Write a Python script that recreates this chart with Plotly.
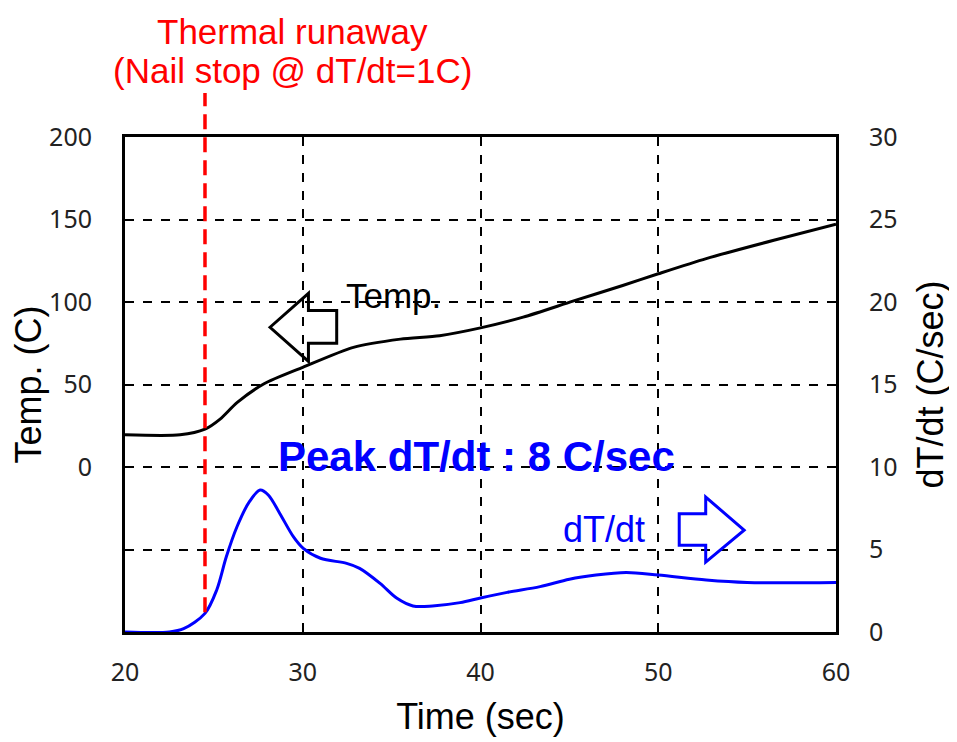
import plotly.graph_objects as go

# ---- data ----
temp_time = [20, 23.1, 24.5, 25.35, 26.3, 27.8, 30.0, 32.85, 35.5, 37.7, 40, 42.4, 45.2, 48.0, 50, 52.7, 56.5, 60]
temp_vals = [19.5, 19.5, 22.9, 29, 39, 50.3, 60.4, 72.5, 77.5, 79.6, 84.3, 90.8, 100.5, 110, 117.1, 126.3, 137.4, 147.1]

rate_time = [20, 22.5, 23.3, 24.5, 25.16, 25.7, 26.3, 27.0, 27.6, 28.06, 28.7, 29.47, 30.03, 31.0, 32.47,
             33.2, 34.35, 35.3, 36.2, 37.3, 38.85, 40, 41.5, 43.35, 45, 46.5, 48.2, 50, 52.7, 55, 60]
rate_vals = [0, 0, 0.2, 1.13, 2.55, 4.56, 6.38, 7.9, 8.6, 8.3, 7.2, 5.78, 5.07, 4.47, 4.16,
             3.86, 2.95, 2.04, 1.58, 1.58, 1.78, 2.06, 2.4, 2.75, 3.2, 3.45, 3.6, 3.45, 3.15, 3.0, 3.0]

x_ticks = [20, 30, 40, 50, 60]
left_tickvals = [-100, -50, 0, 50, 100, 150, 200]
left_ticktext = ["", "", "0", "50", "100", "150", "200"]
right_tickvals = [0, 5, 10, 15, 20, 25, 30]

nail_stop_time = 24.5

fig = go.Figure()
fig.add_trace(go.Scatter(x=temp_time, y=temp_vals, mode="lines",
                         line=dict(color="black", width=3, shape="spline", smoothing=0.7),
                         yaxis="y", showlegend=False))
fig.add_trace(go.Scatter(x=rate_time, y=rate_vals, mode="lines",
                         line=dict(color="#0000ff", width=3, shape="spline", smoothing=0.9),
                         yaxis="y2", showlegend=False))

tickfont = dict(family="Noto Sans, Open Sans, sans-serif", size=25, color="#222")
titlefont = dict(family="Liberation Sans, Arial, sans-serif", size=36, color="black")
annfont = "Liberation Sans, Arial, sans-serif"

fig.update_layout(
    width=949, height=734,
    margin=dict(l=117, r=121, t=129, b=110),
    paper_bgcolor="white", plot_bgcolor="white",
    xaxis=dict(range=[20, 60], tickvals=x_ticks, showgrid=True, gridcolor="black", griddash="dash", gridwidth=1.5,
               showline=True, mirror=True, linecolor="black", linewidth=3, zeroline=False,
               tickfont=tickfont, ticklabelstandoff=16,
               title=dict(text="Time (sec)", font=titlefont, standoff=17)),
    yaxis=dict(range=[-100, 200], tickvals=left_tickvals, ticktext=left_ticktext, showgrid=True, gridcolor="black",
               griddash="dash", gridwidth=1.5, showline=True, mirror=True, linecolor="black", linewidth=3,
               zeroline=False, tickfont=tickfont, ticklabelstandoff=25,
               title=dict(text="Temp. (C)", font=titlefont, standoff=4)),
    yaxis2=dict(range=[0, 30], tickvals=right_tickvals, overlaying="y", side="right", showgrid=False,
                showline=True, linecolor="black", linewidth=3, zeroline=False, tickfont=tickfont,
                ticklabelstandoff=25,
                title=dict(text="dT/dt (C/sec)", font=titlefont, standoff=22)),
)

# red dashed marker line for nail stop
fig.add_shape(type="line", xref="x", yref="paper", x0=nail_stop_time, x1=nail_stop_time, y0=0.04, y1=1.089,
              line=dict(color="#ff0000", width=3.5, dash="15px,8px"))

# block arrows (data coordinates on left axis)
left_arrow = "M 28.16 84.7 L 30.32 105.3 L 30.32 94.8 L 31.91 94.8 L 31.91 75.0 L 30.32 75.0 L 30.32 64.0 Z"
fig.add_shape(type="path", xref="x", yref="y", path=left_arrow, line=dict(color="black", width=3),
              fillcolor="rgba(0,0,0,0)")
right_arrow = "M 54.83 -38.3 L 52.67 -18.2 L 52.67 -28.4 L 51.18 -28.4 L 51.18 -47.4 L 52.67 -47.4 L 52.67 -57.6 Z"
fig.add_shape(type="path", xref="x", yref="y", path=right_arrow, line=dict(color="#0000ff", width=3),
              fillcolor="rgba(0,0,0,0)")

fig.add_annotation(x=29.45, y=1.214, xref="x", yref="paper", yanchor="middle", text="Thermal runaway",
                   showarrow=False, font=dict(family=annfont, size=35, color="#ff0000"), align="center")
fig.add_annotation(x=29.45, y=1.135, xref="x", yref="paper", yanchor="middle", text="(Nail stop @ dT/dt=1C)",
                   showarrow=False, font=dict(family=annfont, size=35, color="#ff0000"), align="center")
fig.add_annotation(x=39.8, y=6.1, xref="x", yref="y", text="<b>Peak dT/dt : 8 C/sec</b>", showarrow=False,
                   font=dict(family=annfont, size=42, color="#0000ff"))
fig.add_annotation(x=35.13, y=104, xref="x", yref="y", text="Temp.", showarrow=False,
                   font=dict(family=annfont, size=35, color="black"))
fig.add_annotation(x=46.95, y=-37.7, xref="x", yref="y", text="dT/dt", showarrow=False,
                   font=dict(family=annfont, size=36, color="#0000ff"))

fig.write_html("out.html")
